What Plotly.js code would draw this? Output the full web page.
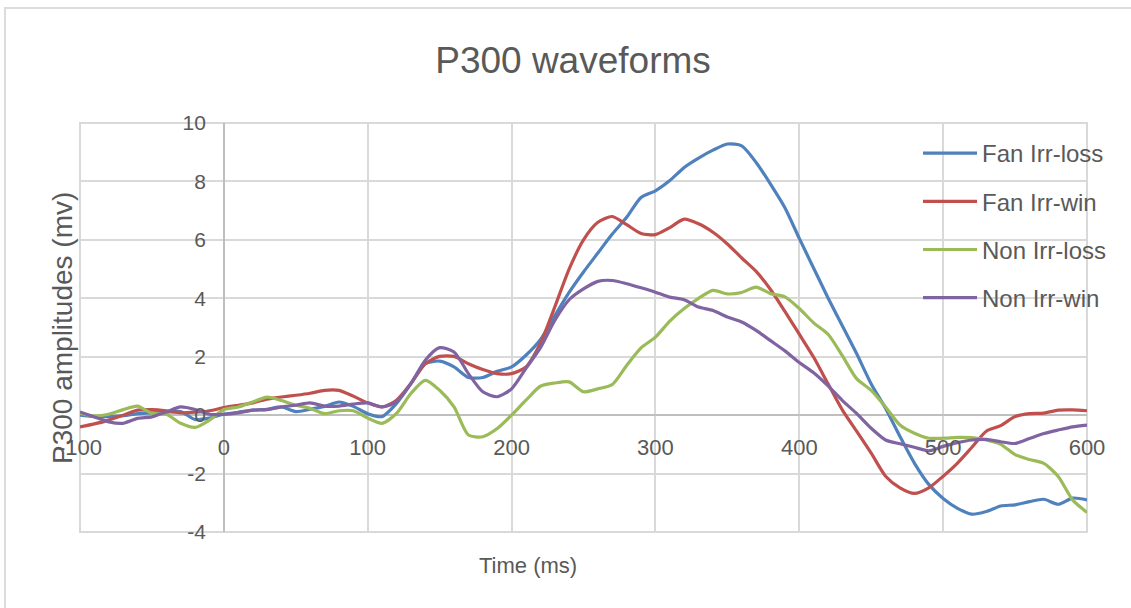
<!DOCTYPE html>
<html>
<head>
<meta charset="utf-8">
<script src="https://cdn.plot.ly/plotly-3.0.1.min.js"></script>
<style>
  html, body { margin: 0; padding: 0; background: #ffffff; overflow: hidden; }
  #frame { position: absolute; left: 4px; top: 7px; width: 1200px; height: 700px;
           border-left: 2px solid #dcdcdc; border-top: 2px solid #dcdcdc; }
  #chart { position: absolute; left: 0; top: 0; width: 1131px; height: 608px; }
</style>
</head>
<body>
<div id="frame"></div>
<div id="chart"></div>
<script>
// Time axis (ms)
const timeMs = [-100,-90,-80,-70,-60,-50,-40,-30,-20,-10,0,10,20,30,40,50,60,70,80,90,
  100,110,120,130,140,150,160,170,180,190,200,210,220,230,240,250,260,270,280,290,
  300,310,320,330,340,350,360,370,380,390,400,410,420,430,440,450,460,470,480,490,
  500,510,520,530,540,550,560,570,580,590,600];

const seriesNames = ["Fan Irr-loss", "Fan Irr-win", "Non Irr-loss", "Non Irr-win"];

const fanIrrLoss = [0.0,-0.05,-0.05,-0.02,0.05,0.08,0.1,0.12,-0.15,-0.1,
  0.03,0.1,0.17,0.2,0.28,0.12,0.2,0.3,0.45,0.3,
  0.05,-0.05,0.4,1.08,1.76,1.85,1.65,1.29,1.29,1.5,
  1.65,2.05,2.58,3.4,4.2,4.9,5.55,6.2,6.77,7.45,
  7.68,8.03,8.48,8.8,9.07,9.28,9.22,8.65,7.91,7.1,
  6.05,5.03,4.01,3.05,2.09,1.07,0.23,-0.73,-1.64,-2.37,
  -2.85,-3.19,-3.39,-3.3,-3.11,-3.07,-2.96,-2.88,-3.05,-2.84,-2.9];

const fanIrrWin = [-0.4,-0.3,-0.17,0.0,0.17,0.19,0.15,0.08,0.1,0.15,
  0.26,0.34,0.42,0.55,0.62,0.68,0.75,0.85,0.85,0.65,
  0.42,0.28,0.51,1.08,1.76,2.01,2.01,1.76,1.56,1.42,
  1.42,1.65,2.45,3.7,5.0,6.0,6.6,6.8,6.52,6.22,
  6.18,6.42,6.71,6.55,6.26,5.86,5.38,4.92,4.3,3.55,
  2.77,1.98,1.07,0.17,-0.56,-1.3,-2.09,-2.49,-2.68,-2.49,
  -2.09,-1.64,-1.1,-0.55,-0.36,-0.05,0.05,0.07,0.17,0.18,0.15];

const nonIrrLoss = [0.06,-0.03,0.03,0.19,0.31,0.06,0.03,-0.28,-0.42,-0.17,
  0.19,0.28,0.45,0.62,0.5,0.34,0.23,0.05,0.15,0.15,
  -0.1,-0.28,0.06,0.74,1.19,0.85,0.28,-0.68,-0.74,-0.46,
  0.0,0.51,0.99,1.1,1.14,0.8,0.9,1.05,1.7,2.3,
  2.67,3.22,3.65,4.0,4.27,4.15,4.2,4.38,4.16,4.05,
  3.65,3.16,2.77,2.03,1.24,0.85,0.28,-0.34,-0.62,-0.79,
  -0.79,-0.76,-0.77,-0.85,-1.0,-1.35,-1.52,-1.65,-2.1,-2.9,-3.33];

const nonIrrWin = [0.11,-0.06,-0.23,-0.28,-0.11,-0.06,0.11,0.28,0.19,0.03,
  0.03,0.08,0.17,0.19,0.28,0.34,0.42,0.31,0.31,0.38,
  0.42,0.28,0.45,1.08,1.88,2.31,2.16,1.42,0.8,0.63,
  0.9,1.6,2.3,3.24,3.95,4.32,4.58,4.61,4.5,4.36,
  4.21,4.04,3.95,3.7,3.58,3.36,3.19,2.9,2.55,2.2,
  1.8,1.45,1.0,0.5,0.05,-0.45,-0.85,-0.98,-1.1,-1.22,
  -1.07,-0.94,-0.85,-0.83,-0.91,-0.97,-0.8,-0.63,-0.51,-0.4,-0.34];

const xTickVals = [-100,0,100,200,300,400,500,600];
const yTickVals = [-4,-2,0,2,4,6,8,10];

const seriesValues = [fanIrrLoss, fanIrrWin, nonIrrLoss, nonIrrWin];
const seriesColors = ["#4F81BD", "#C0504D", "#9BBB59", "#8064A2"];

const traces = seriesValues.map((vals, i) => ({
  x: timeMs,
  y: vals,
  type: "scatter",
  mode: "lines",
  name: seriesNames[i],
  legendgroup: "g" + i,
  line: { color: seriesColors[i], width: 3.2, shape: "spline", smoothing: 0.7 },
  hoverinfo: "x+y+name"
}));

const txt = "#595959";
const grid = "#d9d9d9";
const fontFam = "Liberation Sans, Arial, Helvetica, sans-serif";

const layout = {
  width: 1131,
  height: 608,
  margin: { l: 80, r: 44, t: 123, b: 76 },
  paper_bgcolor: "rgba(0,0,0,0)",
  plot_bgcolor: "rgba(0,0,0,0)",
  font: { family: fontFam, color: txt },
  showlegend: true,
  title: {
    text: "P300 waveforms",
    font: { size: 37, color: txt, family: fontFam },
    x: 573 / 1131, xanchor: "center", xref: "container",
    y: 1 - 60 / 608, yanchor: "middle", yref: "container"
  },
  xaxis: {
    range: [-100, 600],
    tickvals: xTickVals,
    ticktext: xTickVals.map(String),
    showgrid: true, gridcolor: grid, gridwidth: 2,
    zeroline: true, zerolinecolor: "#bfbfbf", zerolinewidth: 2,
    showline: false, ticks: "",
    anchor: "free", position: 4 / 14,
    ticklabelstandoff: 17,
    tickfont: { size: 22, color: txt, family: fontFam },
    fixedrange: true
  },
  yaxis: {
    range: [-4, 10],
    tickvals: yTickVals,
    ticktext: yTickVals.map(String),
    showgrid: true, gridcolor: grid, gridwidth: 2,
    zeroline: true, zerolinecolor: "#bfbfbf", zerolinewidth: 2,
    showline: false, ticks: "",
    anchor: "free", position: 100 / 700,
    ticklabelstandoff: 18,
    tickfont: { size: 21, color: txt, family: fontFam },
    fixedrange: true
  },
  legend: {
    x: (918 - 80) / 1007, xanchor: "left", xref: "paper",
    y: (532 - 131) / 409, yanchor: "top", yref: "paper",
    bgcolor: "rgba(0,0,0,0)",
    font: { size: 24, color: txt, family: fontFam },
    itemwidth: 54,
    tracegroupgap: 14,
    traceorder: "grouped"
  },
  shapes: [
    { type: "rect", xref: "paper", yref: "paper", x0: 0, x1: 1, y0: 0, y1: 1,
      line: { color: grid, width: 2 }, layer: "below" }
  ],
  annotations: [
    { text: "P300 amplitudes (mv)", xref: "paper", yref: "paper",
      x: (62 - 80) / 1007, y: (532 - 328) / 409, xanchor: "center", yanchor: "middle",
      textangle: -90, showarrow: false,
      font: { size: 28, color: txt, family: fontFam } },
    { text: "Time (ms)", xref: "paper", yref: "paper",
      x: (528 - 80) / 1007, y: (532 - 565) / 409, xanchor: "center", yanchor: "middle",
      showarrow: false,
      font: { size: 22, color: txt, family: fontFam } }
  ]
};

Plotly.newPlot("chart", traces, layout, { displayModeBar: false, staticPlot: true });
</script>
</body>
</html>
